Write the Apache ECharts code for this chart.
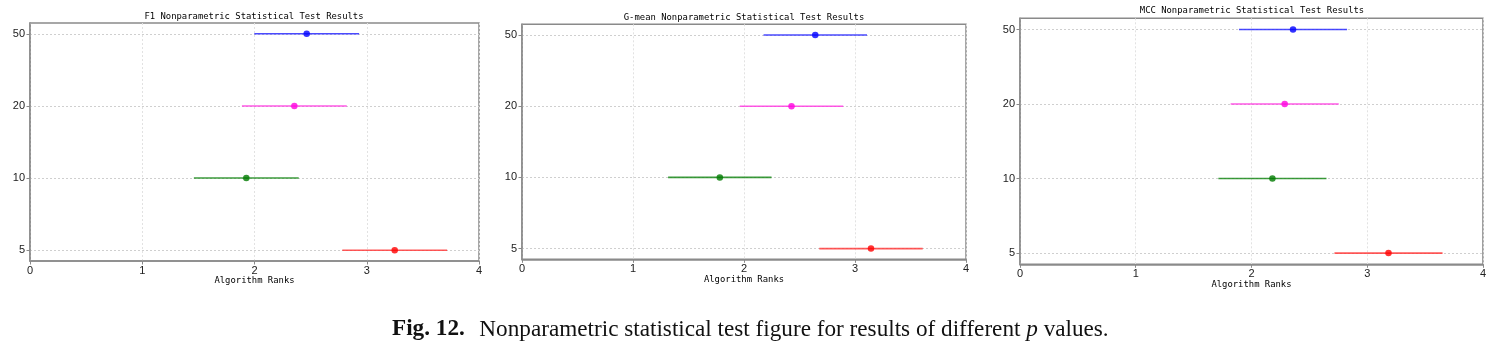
<!DOCTYPE html>
<html>
<head>
<meta charset="utf-8">
<script src="https://cdn.jsdelivr.net/npm/echarts@6/dist/echarts.min.js"></script>
<style>
html,body{margin:0;padding:0;background:#fff;}
#c{width:1489px;height:344px;}
</style>
</head>
<body>
<div id="c"></div>
<script>
// ---- data ----
const categories = ['5', '10', '20', '50'];          // p values (bottom -> top)
const pointColors = ['#ff0000', '#007a00', '#ff00e0', '#0000ff'];
const lineColors  = ['#ff3b3b', '#1a8a1a', '#ff3ce0', '#2a2aff'];
const titles = [
  'F1 Nonparametric Statistical Test Results',
  'G-mean Nonparametric Statistical Test Results',
  'MCC Nonparametric Statistical Test Results'
];
const xTicks = [0, 1, 2, 3, 4];
const f1Ranks    = [3.249, 1.927, 2.355, 2.465];
const gmeanRanks = [3.144, 1.782, 2.428, 2.642];
const mccRanks   = [3.184, 2.181, 2.287, 2.359];
const criticalDiff = [0.934, 0.932, 0.934];   // full interval width (CD)
const xAxisName = 'Algorithm Ranks';
const captionBold = 'Fig. 12.';
const captionText = 'Nonparametric statistical test figure for results of different ';
const captionItalic = 'p';
const captionEnd = ' values.';

// ---- layout ----
const panels = [
  {ranks: f1Ranks,    left: 30,   width: 449, top: 23,   height: 238, titleX: 254,  titleY: 12.3},
  {ranks: gmeanRanks, left: 522,  width: 444, top: 24.3, height: 235, titleX: 744,  titleY: 13.2},
  {ranks: mccRanks,   left: 1020, width: 464, top: 18.3, height: 246, titleX: 1252, titleY: 6.6}
];

const monoFont = '"DejaVu Sans Mono", monospace';
const sansFont = '"Liberation Sans", Arial, sans-serif';
const serifFont = '"Liberation Serif", serif';

const grid = [], xAxis = [], yAxis = [], series = [], title = [];
panels.forEach((p, k) => {
  grid.push({left: p.left, top: p.top, width: p.width, height: p.height,
    show: true, borderColor: '#8a8a8a', borderWidth: 1.5, backgroundColor: '#fff', containLabel: false});
  title.push({text: titles[k], left: p.titleX, top: p.titleY, textAlign: 'center', padding: 0,
    textStyle: {fontFamily: monoFont, fontSize: 8.9, fontWeight: 'normal', color: '#000'}});
  xAxis.push({type: 'value', gridIndex: k, min: 0, max: 4, interval: 1,
    name: xAxisName, nameLocation: 'middle', nameGap: 15.5, nameMoveOverlap: false,
    nameTextStyle: {fontFamily: monoFont, fontSize: 8.9, color: '#000'},
    axisLine: {show: true, onZero: false, lineStyle: {color: '#8a8a8a', width: 1.5}},
    axisTick: {show: true, length: 3.5, lineStyle: {color: '#8a8a8a'}},
    axisLabel: {margin: 4, fontFamily: sansFont, fontSize: 11, color: '#222', showMinLabel: true, showMaxLabel: true},
    splitLine: {show: true, lineStyle: {color: '#e2e2e2', type: [2, 2], width: 1}}
  });
  yAxis.push({type: 'value', gridIndex: k, min: -0.15, max: 3.15,
    axisLine: {show: true, onZero: false, lineStyle: {color: '#8a8a8a', width: 1.5}},
    axisTick: {show: true, length: 3.5, customValues: [0, 1, 2, 3], lineStyle: {color: '#8a8a8a'}},
    axisLabel: {margin: 5, fontFamily: sansFont, fontSize: 11, color: '#222',
      customValues: [0, 1, 2, 3], formatter: v => categories[Math.round(v)]},
    splitLine: {show: true, lineStyle: {color: '#cfcfcf', type: [2, 2], width: 1}}
  });
  const half = criticalDiff[k] / 2;
  series.push({
    type: 'custom', xAxisIndex: k, yAxisIndex: k,
    data: p.ranks.map((r, i) => [r - half, r + half, i]),
    encode: {x: [0, 1], y: 2},
    renderItem: (params, api) => {
      const i = api.value(2);
      const a = api.coord([api.value(0), i]);
      const b = api.coord([api.value(1), i]);
      return {type: 'line', shape: {x1: a[0], y1: a[1], x2: b[0], y2: b[1]},
        style: {stroke: lineColors[i], lineWidth: 1.6, opacity: 0.85}};
    },
    silent: true, z: 2
  });
  series.push({
    type: 'scatter', xAxisIndex: k, yAxisIndex: k,
    data: p.ranks.map((r, i) => ({value: [r, i], itemStyle: {color: pointColors[i]}})),
    symbol: 'circle', symbolSize: 6.5, silent: true, z: 3
  });
});

title.push({
  text: '{b|' + captionBold + '}{n|  ' + captionText + '}{i|' + captionItalic + '}{n|' + captionEnd + '}',
  left: 392, top: 318, padding: 0,
  textStyle: {
    fontWeight: 'normal',
    rich: {
      b: {fontFamily: serifFont, fontSize: 23.2, fontWeight: 'bold', color: '#111', padding: [0, 3, 0, 0]},
      n: {fontFamily: serifFont, fontSize: 23.2, fontWeight: 'normal', color: '#111'},
      i: {fontFamily: serifFont, fontSize: 23.2, fontWeight: 'normal', fontStyle: 'italic', color: '#111'}
    }
  }
});

const chart = echarts.init(document.getElementById('c'), null, {renderer: 'canvas'});
chart.setOption({animation: false, backgroundColor: '#fff', title, grid, xAxis, yAxis, series});
</script>
</body>
</html>
